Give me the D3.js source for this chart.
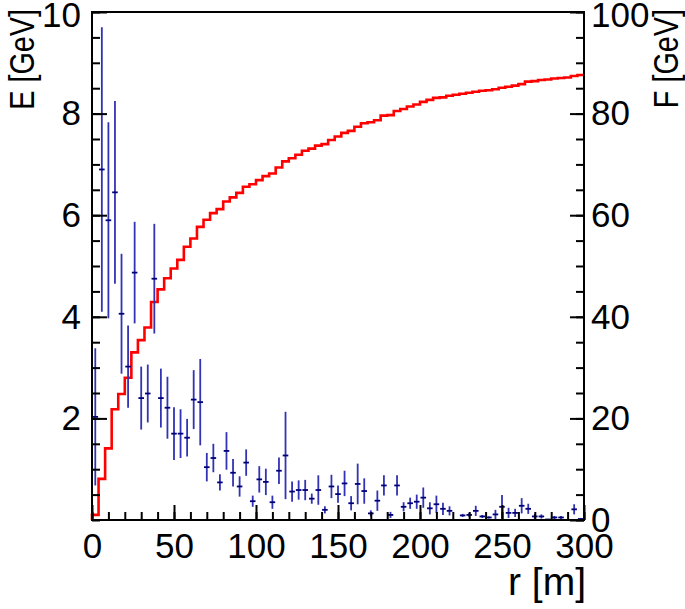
<!DOCTYPE html>
<html>
<head>
<meta charset="utf-8">
<script src="https://cdn.jsdelivr.net/npm/d3@7"></script>
<style>
  html, body { margin: 0; padding: 0; background: #fff; }
  svg { display: block; }
  text { font-family: "Liberation Sans", Arial, Helvetica, sans-serif; fill: #000; }
</style>
</head>
<body>
<script>
// ---- data ----
const binWidth = 4;               // r bin width [m]
const xTickLabels = [0, 50, 100, 150, 200, 250, 300];
const eTickLabels = [2, 4, 6, 8, 10];
const fTickLabels = [0, 20, 40, 60, 80, 100];

// E per bin (blue points), bins of 4 m from 0 to 300 m (null = empty bin)
const eValues = [
  2.03, 6.90, 5.90, 6.45, 4.06, 3.02, 4.87, 2.40, 2.49, 4.75,
  2.40, 2.21, 1.70, 1.70, 1.62, 2.37, 2.32, 1.04, 1.22, 0.74,
  1.36, 0.93, 0.66, 1.13, 0.37, 0.80, 0.75, 0.35, 0.97, 1.27,
  0.56, 0.59, 0.59, 0.42, 0.59, 0.20, 0.66, 0.51, 0.72, 0.33,
  0.71, 0.57, 0.13, 0.38, 0.68, 0.10, 0.68, 0.26, 0.33, 0.36,
  0.44, 0.23, 0.31, 0.22, 0.18, null, 0.09, 0.10, 0.18, 0.07,
  0.05, 0.11, 0.26, 0.14, 0.14, 0.28, 0.22, 0.07, 0.07, 0.01,
  0.05, 0.05, null, 0.21, 0.02
];
const eErrors = [
  1.35, 2.80, 1.93, 1.80, 1.18, 0.81, 1.00, 0.62, 0.57, 1.08,
  0.58, 0.61, 0.52, 0.48, 0.37, 0.58, 0.85, 0.28, 0.28, 0.16,
  0.37, 0.27, 0.20, 0.26, 0.11, 0.26, 0.26, 0.13, 0.26, 0.86,
  0.20, 0.19, 0.20, 0.10, 0.29, 0.07, 0.23, 0.17, 0.25, 0.14,
  0.40, 0.25, 0.06, 0.20, 0.20, 0.06, 0.20, 0.09, 0.11, 0.14,
  0.20, 0.12, 0.17, 0.12, 0.09, 0.00, 0.03, 0.04, 0.10, 0.03,
  0.02, 0.09, 0.23, 0.10, 0.08, 0.15, 0.10, 0.05, 0.04, 0.01,
  0.03, 0.03, 0.00, 0.10, 0.02
];
// F cumulative (red step histogram), same bins
const fValues = [
  1.0, 8.1, 14.1, 21.8, 24.8, 28.0, 33.0, 35.4, 37.9, 42.9,
  45.4, 47.6, 49.5, 51.2, 53.8, 55.4, 57.7, 59.1, 60.4, 61.2,
  62.7, 63.5, 64.4, 65.6, 66.1, 66.9, 67.7, 68.2, 69.4, 70.6,
  71.2, 71.9, 72.7, 73.1, 73.7, 74.0, 74.8, 75.5, 76.2, 76.6,
  77.4, 78.1, 78.3, 78.7, 79.6, 79.7, 80.5, 80.9, 81.4, 81.8,
  82.3, 82.7, 83.1, 83.2, 83.5, 83.7, 83.9, 84.1, 84.3, 84.5,
  84.6, 84.8, 85.1, 85.3, 85.5, 85.8, 86.3, 86.4, 86.6, 86.7,
  86.9, 87.0, 87.1, 87.4, 87.6
];

// ---- layout ----
const W = 685, H = 609;
const L = 92, R = 584, T = 12, B = 520;
const FS = 35;

const svg = d3.select("body").append("svg").attr("width", W).attr("height", H);

const x = d3.scaleLinear().domain([0, 300]).range([L, R]);
const yE = d3.scaleLinear().domain([0, 10]).range([B, T]);
const yF = d3.scaleLinear().domain([0, 100]).range([B, T]);

// ---- red step histogram ----
const stepPts = [[0, 0]];
fValues.forEach((v, i) => {
  stepPts.push([i * binWidth, v]);
  stepPts.push([(i + 1) * binWidth, v]);
});
svg.append("path")
  .attr("d", d3.line().x(d => x(d[0])).y(d => yF(d[1]))(stepPts))
  .attr("fill", "none").attr("stroke", "#ff0000").attr("stroke-width", 2.6)
  .attr("stroke-linejoin", "miter");

// ---- blue points with errors ----
const pts = eValues.map((v, i) => ({ c: i * binWidth + binWidth / 2, v, e: eErrors[i] }))
  .filter(d => d.v !== null);
const gp = svg.append("g");
gp.selectAll("line.v").data(pts).enter().append("line")
  .attr("x1", d => x(d.c)).attr("x2", d => x(d.c))
  .attr("y1", d => yE(Math.max(0, d.v - d.e))).attr("y2", d => yE(d.v + d.e))
  .attr("stroke", "#3232b4").attr("stroke-width", 1.8);
gp.selectAll("line.h").data(pts).enter().append("line")
  .attr("x1", d => x(d.c - 1.7)).attr("x2", d => x(d.c + 1.7))
  .attr("y1", d => yE(d.v)).attr("y2", d => yE(d.v))
  .attr("stroke", "#00007a").attr("stroke-width", 1.8);

// ---- axes ----
function styleAxis(g) {
  g.select(".domain").remove();
  g.selectAll(".tick line").attr("stroke", "#000").attr("stroke-width", 2);
  g.selectAll("text").attr("font-size", FS).attr("font-family", "Liberation Sans, Arial, sans-serif");
}
// minor ticks
svg.append("g").attr("transform", `translate(0,${B})`)
  .call(d3.axisBottom(x).tickValues(d3.range(0, 301, 10)).tickSize(-8).tickFormat(""))
  .call(styleAxis);
svg.append("g").attr("transform", `translate(${L},0)`)
  .call(d3.axisLeft(yE).tickValues(d3.range(0, 10.01, 0.5)).tickSize(-8).tickFormat(""))
  .call(styleAxis);
svg.append("g").attr("transform", `translate(${R},0)`)
  .call(d3.axisRight(yF).tickValues(d3.range(0, 100.1, 5)).tickSize(-8).tickFormat(""))
  .call(styleAxis);
// major ticks + labels
svg.append("g").attr("transform", `translate(0,${B})`)
  .call(d3.axisBottom(x).tickValues(xTickLabels).tickSize(-15).tickPadding(13).tickFormat(d3.format("d")))
  .call(styleAxis);

const gl = svg.append("g").attr("transform", `translate(${L},0)`)
  .call(d3.axisLeft(yE).tickValues(eTickLabels).tickSize(-15).tickPadding(11).tickFormat(d3.format("d")))
  .call(styleAxis);
gl.selectAll(".tick").filter(d => d === 10).select("text").attr("dy", "0.4em");

const gr = svg.append("g").attr("transform", `translate(${R},0)`)
  .call(d3.axisRight(yF).tickValues(fTickLabels).tickSize(-14).tickPadding(7).tickFormat(d3.format("d")))
  .call(styleAxis);
gr.selectAll(".tick").filter(d => d === 100).select("text").attr("dy", "0.4em");

// frame
svg.append("rect").attr("x", L).attr("y", T).attr("width", R - L).attr("height", B - T)
  .attr("fill", "none").attr("stroke", "#000").attr("stroke-width", 2);

// ---- titles ----
svg.append("text").attr("transform", `translate(34,${T - 3}) rotate(-90) scale(0.8,1)`)
  .attr("text-anchor", "end").attr("font-size", 36).text("E [GeV]");
svg.append("text").attr("transform", `translate(678,${T - 3}) rotate(-90) scale(0.8,1)`)
  .attr("text-anchor", "end").attr("font-size", 36).text("F [GeV]");
svg.append("text").attr("x", 586).attr("y", 595)
  .attr("text-anchor", "end").attr("font-size", 39).text("r [m]");
</script>
</body>
</html>
